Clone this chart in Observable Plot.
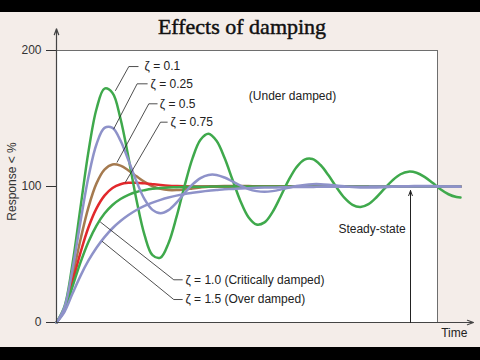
<!DOCTYPE html>
<html>
<head>
<meta charset="utf-8">
<script src="https://cdn.jsdelivr.net/npm/d3@7"></script>
<script src="https://cdn.jsdelivr.net/npm/@observablehq/plot@0.6"></script>
<style>
  html, body { margin: 0; padding: 0; background: #000; }
  #page { position: relative; width: 480px; height: 360px; background: #000; overflow: hidden; }
  #panel { position: absolute; left: 0; top: 12px; width: 480px; height: 335px; background: #f4ede9; }
  #title { position: absolute; left: 2px; top: 4px; width: 480px; text-align: center;
           font-family: "Liberation Serif", "Times New Roman", serif; font-size: 22px; line-height: 22px; color: #111;
           -webkit-text-stroke: 0.45px #111; }
  #chart { position: absolute; left: 0; top: 0; }
</style>
</head>
<body>
<div id="page">
  <div id="panel">
    <div id="chart"></div>
    <div id="title">Effects of damping</div>
  </div>
</div>
<script>
// ---- data ----
const t = [0,0.5,1,1.5,2,2.5,3,3.5,4,4.5,5,5.5,6,6.5,7,7.5,8,8.5,9,9.5,10,10.5,11,11.5,12,12.5,13,13.5,14,14.5,15,15.5,16,16.5,17,17.5,18,18.5,19,19.5,20,20.5,21,21.5,22,22.5,23,23.5,24,24.5,25,25.25];

const z010 = [0,11.8,43.1,84.6,125.8,157.0,172.0,168.8,149.8,121.1,
              90.1,64.4,49.5,47.7,58.3,77.6,100.3,120.7,134.4,138.8,
              133.6,121.1,105.0,89.2,77.4,72.0,73.6,81.2,92.5,104.5,
              114.2,119.8,120.2,115.8,108.2,99.4,91.6,86.5,85.0,87.1,
              92.1,98.4,104.5,109.0,110.9,110.1,107.1,102.7,98.0,94.3,
              92.3,92.0];
const z025 = [0,11.3,39.2,74.3,107.1,131.1,143.1,143.1,133.7,119.2,
              103.7,90.7,82.8,80.3,82.6,88.1,95.1,101.5,106.2,108.5,
              108.5,106.6,103.7,100.7,98.1,96.6,96.1,96.6,97.7,99.1,
              100.3,101.2,101.7,101.7,101.3,100.7,100.1,99.6,99.3,99.2,
              99.3,99.5,99.8,100.1,100.2,100.3,100.3,100.3,100.1,100.0,
              99.9,99.9];
const z050 = [0,10.4,34.0,61.0,84.9,102.3,112.4,116.2,115.3,111.8,
              107.5,103.4,100.2,98.3,97.4,97.4,97.9,98.6,99.3,99.9,
              100.2,100.4,100.4,100.4,100.3,100.1,100.0,100,100,100,
              100,100,100,100,100,100,100,100,100,100,
              100,100,100,100,100,100,100,100,100,100,
              100,100];
const z075 = [0,9.7,29.8,51.4,70.0,83.9,93.3,98.9,101.7,102.7,
              102.8,102.3,101.7,101.1,100.6,100.3,100.1,100,100,100,
              100,100,100,100,100,100,100,100,100,100,
              100,100,100,100,100,100,100,100,100,100,
              100,100,100,100,100,100,100,100,100,100,
              100,100];
const z100 = [0,9.0,26.4,44.2,59.4,71.3,80.1,86.4,90.8,93.9,
              96.0,97.3,98.3,98.9,99.3,99.5,99.7,99.8,99.9,99.9,
              100,100,100,100,100,100,100,100,100,100,
              100,100,100,100,100,100,100,100,100,100,
              100,100,100,100,100,100,100,100,100,100,
              100,100];
const z150 = [0,7.9,21.3,34.3,45.6,55.0,62.8,69.3,74.6,79.0,
              82.7,85.7,88.2,90.2,91.9,93.3,94.5,95.4,96.2,96.9,
              97.4,97.9,98.2,98.6,98.8,99.0,99.2,99.3,99.4,99.5,
              99.6,99.7,99.7,99.8,99.8,99.9,99.9,99.9,99.9,99.9,
              100,100,100,100,100,100,100,100,100,100,
              100,100];

const yTicks = [0, 100, 200];
const yLabel = "Response < %";
const yLabelV = 103.7;           // vertical centre of the rotated axis label
const frameEndT = 23.8125;      // right edge of the white plot box
const yArrowTop = 216;           // y-axis arrow tip
const xArrowEnd = 26.06;         // time-axis arrow tip
const steadyT = 22.125;          // steady-state marker position
const steadyTip = 97;

const labelText  = ["ζ = 0.1", "ζ = 0.25", "ζ = 0.5", "ζ = 0.75", "ζ = 1.0 (Critically damped)", "ζ = 1.5 (Over damped)"];
const leadCurveT = [3.69, 3.58, 3.79, 4.31, 2.75, 2.86];
const leadCurveV = [170.6, 142.4, 117.9, 103.2, 73.8, 59.6];
const leadElbowT = [4.52, 5.04, 5.77, 6.5, 7.33, 7.33];
const leadElbowV = [188.2, 175.5, 160.8, 147.3, 31.4, 16.9];
const leadEndT   = [5.1, 5.67, 6.29, 6.92, 7.86, 7.86];
const labelT     = [5.5, 5.875, 6.46, 7.125, 8.06, 8.06];

const noteText = ["(Under damped)", "Steady-state", "Time"];
const noteT = [12.02, 21.83, 24.04];
const noteV = [166.2, 68.9, -7.6];
const noteAnchor = ["start", "end", "start"];

// ---- build ----
const pts = vals => t.map((tt, i) => ({t: tt, v: vals[i]}));
const green = "#3fa94c", lav = "#8e92c9", brown = "#a57a4f", red = "#e2282c";
const order = [
  {v: z050, c: brown},
  {v: z075, c: red},
  {v: z100, c: green},
  {v: z010, c: green},
  {v: z025, c: lav},
  {v: z150, c: lav}
];

const leaders = labelText.flatMap((s, i) => [
  {g: i, t: leadCurveT[i], v: leadCurveV[i]},
  {g: i, t: leadElbowT[i], v: leadElbowV[i]},
  {g: i, t: leadEndT[i], v: leadElbowV[i]}
]);
const labels = labelText.map((s, i) => ({s, t: labelT[i], v: leadElbowV[i]}));
const notes = noteText.map((s, i) => ({s, t: noteT[i], v: noteV[i], a: noteAnchor[i]}));

const chart = Plot.plot({
  width: 480,
  height: 335,
  marginLeft: 56,
  marginRight: 43,
  marginTop: 38,
  marginBottom: 25,
  style: {background: "transparent", fontFamily: "'Liberation Sans', Arial, sans-serif", fontSize: "12px", color: "#333", overflow: "visible"},
  x: {domain: [0, frameEndT], axis: null},
  y: {domain: [0, 200], ticks: yTicks, tickSize: 10, tickPadding: 5, label: null, tickFormat: d => String(d)},
  marks: [
    Plot.frame({fill: "white", stroke: "#6e6e6e", strokeWidth: 1}),
    ...order.map(o => Plot.line(pts(o.v), {x: "t", y: "v", stroke: o.c, strokeWidth: 2.5, curve: "catmull-rom"})),
    Plot.line(leaders, {x: "t", y: "v", z: "g", stroke: "#222", strokeWidth: 0.8}),
    Plot.text(labels, {x: "t", y: "v", text: "s", textAnchor: "start", fill: "#222", fontSize: 12}),
    Plot.text(notes.filter(d => d.a === "start"), {x: "t", y: "v", text: "s", textAnchor: "start", fill: "#222", fontSize: 12}),
    Plot.text(notes.filter(d => d.a === "end"), {x: "t", y: "v", text: "s", textAnchor: "end", fill: "#222", fontSize: 12}),
    Plot.arrow([{a: 0}], {x1: 0, x2: 0, y1: 0, y2: yArrowTop, stroke: "#444", strokeWidth: 1.2, headLength: 8, headAngle: 40}),
    Plot.arrow([{a: 0}], {x1: 0, x2: xArrowEnd, y1: 0, y2: 0, stroke: "#444", strokeWidth: 1.2, headLength: 8, headAngle: 40}),
    Plot.arrow([{a: 0}], {x1: steadyT, x2: steadyT, y1: 0, y2: steadyTip, stroke: "#222", strokeWidth: 1, headLength: 8, headAngle: 40}),
    Plot.text([yLabel], {x: 0, y: yLabelV, text: d => d, rotate: -90, dx: -44, fill: "#333", fontSize: 12})
  ]
});
document.getElementById("chart").appendChild(chart);
</script>
</body>
</html>
